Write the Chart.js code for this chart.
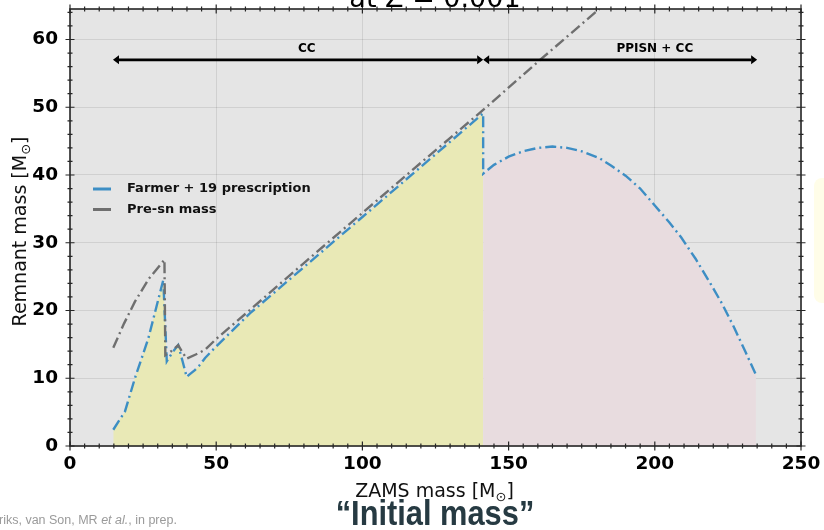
<!DOCTYPE html>
<html>
<head>
<meta charset="utf-8">
<script src="https://cdn.jsdelivr.net/npm/chart.js@4/dist/chart.umd.min.js"></script>
<style>
  html, body { margin: 0; padding: 0; background: #fff; }
  #wrap { position: relative; width: 824px; height: 530px; overflow: hidden; }
  #c { position: absolute; left: 0; top: 0; }
  .credit { position: absolute; left: -1px; top: 513px; font: 12.5px "Liberation Sans", Arial, sans-serif; color: #9a9a9a; white-space: nowrap; }
  .initial { position: absolute; left: 435px; top: 495px; font: bold 35px "Liberation Sans", Arial, sans-serif; color: #263a42; white-space: nowrap; transform: translateX(-50%) scaleX(0.88); line-height: 36px; }
  .note { position: absolute; left: 814px; top: 178px; width: 24px; height: 125px; background: #fffde8; border-radius: 8px; }
</style>
</head>
<body>
<div id="wrap">
  <canvas id="c" width="824" height="530"></canvas>
  <div class="note"></div>
  <div class="credit">riks, van Son, MR <i>et al.</i>, in prep.</div>
  <div class="initial">“Initial mass”</div>
</div>
<script>
/* remnant mass vs ZAMS mass, Z = 0.001 */

// Farmer+19, core-collapse branch (up to the PPISN jump)
const farmerCcX = [14.8, 18.8, 22.2, 26.8, 31.9, 33.1, 35, 37, 38.5, 39.9, 41, 42.7, 44.5, 46.2, 50, 61.6, 80, 100, 120, 141.3];
const farmerCcY = [2.4, 5.1, 10.0, 15.9, 24.5, 12.5, 13.8, 14.9, 12.5, 10.2, 10.6, 11.2, 12.0, 13.0, 14.7, 19.6, 26.4, 33.8, 41.2, 49.1];

// Farmer+19, PPISN branch
const farmerPpX = [141.3, 145, 150, 155, 160, 165, 170, 175, 181, 185, 190, 195, 200, 205, 209, 214, 219, 223, 227, 231, 234.6];
const farmerPpY = [40.2, 41.5, 42.7, 43.5, 44.0, 44.2, 44.0, 43.5, 42.5, 41.4, 39.9, 38.0, 35.5, 33.0, 30.8, 27.6, 24.0, 21.0, 17.6, 13.9, 10.5];

// pre-supernova mass
const preSnX = [14.8, 18.5, 22.2, 27, 32.3, 32.6, 35, 37, 38.5, 39.9, 43, 46.2, 50, 61.6, 80, 100, 120, 141.3, 160, 181];
const preSnY = [14.5, 18.1, 21.3, 24.7, 27.5, 13.4, 14.1, 14.9, 13.8, 12.9, 13.5, 14.2, 15.8, 20.1, 27.0, 34.4, 41.8, 49.6, 56.7, 64.5];

// regime arrows
const arrowSpans = [[14.7, 141.3], [141.3, 235]];
const arrowLabels = ['CC', 'PPISN + CC'];
const arrowLabelX = [81, 200];
const arrowY = 57;

const xTicksMajor = 50, xTicksMinor = 5;
const yTicksMajor = 10, yTicksMinor = 2;

const BLUE = '#3d8ec4';
const GRAY = '#6f6f6f';
const FONT = '"DejaVu Sans", sans-serif';

const pts = (xs, ys) => xs.map((x, i) => ({ x, y: ys[i] }));
const ccPts = pts(farmerCcX, farmerCcY);
const ppPts = pts(farmerPpX, farmerPpY);

function drawMsunText(ctx, prefix, cx, cy) {
    // "prefix [M" + subscript odot + "]"
    ctx.font = '19px ' + FONT;
    const w1 = ctx.measureText(prefix + '[M').width;
    ctx.font = '13px ' + FONT;
    const w2 = ctx.measureText('⊙').width;
    ctx.font = '19px ' + FONT;
    const w3 = ctx.measureText(']').width;
    let x = cx - (w1 + w2 + w3) / 2;
    ctx.textAlign = 'left';
    ctx.textBaseline = 'alphabetic';
    ctx.fillText(prefix + '[M', x, cy);
    x += w1;
    ctx.font = '13px ' + FONT;
    ctx.fillText('⊙', x, cy + 4);
    x += w2;
    ctx.font = '19px ' + FONT;
    ctx.fillText(']', x, cy);
}

const framePlugin = {
    id: 'frame',
    beforeDraw(chart) {
        const { ctx, chartArea: a } = chart;
        ctx.save();
        ctx.fillStyle = '#e5e5e5';
        ctx.fillRect(a.left, a.top, a.right - a.left, a.bottom - a.top);
        ctx.restore();
    },
    afterDraw(chart) {
        const { ctx, chartArea: a } = chart;
        const xs = chart.scales.x, ys = chart.scales.y;
        ctx.save();

        // frame
        ctx.strokeStyle = '#262626';
        ctx.lineWidth = 1.6;
        ctx.setLineDash([]);
        ctx.strokeRect(a.left, a.top, a.right - a.left, a.bottom - a.top);

        // ticks on all four sides, crossing the frame
        ctx.lineWidth = 1.2;
        for (let v = xs.min; v <= xs.max + 1e-6; v += xTicksMinor) {
            const len = v % xTicksMajor === 0 ? 4.5 : 2.5;
            const p = xs.getPixelForValue(v);
            ctx.beginPath();
            ctx.moveTo(p, a.bottom - len); ctx.lineTo(p, a.bottom + len);
            ctx.moveTo(p, a.top - len); ctx.lineTo(p, a.top + len);
            ctx.stroke();
        }
        for (let v = ys.min; v <= ys.max + 1e-6; v += yTicksMinor) {
            const len = v % yTicksMajor === 0 ? 4.5 : 2.5;
            const p = ys.getPixelForValue(v);
            ctx.beginPath();
            ctx.moveTo(a.left - len, p); ctx.lineTo(a.left + len, p);
            ctx.moveTo(a.right - len, p); ctx.lineTo(a.right + len, p);
            ctx.stroke();
        }

        // regime arrows
        const py = ys.getPixelForValue(arrowY);
        const head = 6, hw = 4.5;
        ctx.strokeStyle = '#000';
        ctx.fillStyle = '#000';
        arrowSpans.forEach(([x0, x1], i) => {
            const p0 = xs.getPixelForValue(x0), p1 = xs.getPixelForValue(x1);
            ctx.lineWidth = 2.8;
            ctx.beginPath();
            ctx.moveTo(p0 + head, py); ctx.lineTo(p1 - head, py);
            ctx.stroke();
            ctx.beginPath();
            ctx.moveTo(p0, py); ctx.lineTo(p0 + head, py - hw); ctx.lineTo(p0 + head, py + hw); ctx.closePath();
            ctx.moveTo(p1, py); ctx.lineTo(p1 - head, py - hw); ctx.lineTo(p1 - head, py + hw); ctx.closePath();
            ctx.fill();
            ctx.font = 'bold 12px ' + FONT;
            ctx.textAlign = 'center';
            ctx.textBaseline = 'middle';
            ctx.fillText(arrowLabels[i], xs.getPixelForValue(arrowLabelX[i]), py - 11);
        });

        // legend inside the axes
        const items = chart.data.datasets.filter((d) => d.inLegend);
        items.forEach((d, i) => {
            const ly = a.top + 180 + i * 20.5;
            ctx.strokeStyle = d.borderColor;
            ctx.lineWidth = 3;
            ctx.beginPath();
            ctx.moveTo(a.left + 23, ly); ctx.lineTo(a.left + 41, ly);
            ctx.stroke();
            ctx.fillStyle = '#111';
            ctx.font = 'bold 13px ' + FONT;
            ctx.textAlign = 'left';
            ctx.textBaseline = 'middle';
            ctx.fillText(d.label, a.left + 57, ly);
        });

        // axis titles
        ctx.fillStyle = '#111';
        drawMsunText(ctx, 'ZAMS mass ', (a.left + a.right) / 2 - 1, 497);
        ctx.translate(26, (a.top + a.bottom) / 2 + 4);
        ctx.rotate(-Math.PI / 2);
        drawMsunText(ctx, 'Remnant mass ', 0, 0);
        ctx.setTransform(1, 0, 0, 1, 0, 0);

        // title, cut off by the top of the slide
        ctx.font = '27px ' + FONT;
        ctx.textAlign = 'center';
        ctx.textBaseline = 'alphabetic';
        ctx.fillStyle = '#000';
        ctx.fillText('at Z = 0.001', 435, 7);

        ctx.restore();
    },
};

const tickFont = { family: 'DejaVu Sans', size: 18.5, weight: 'bold' };

new Chart(document.getElementById('c'), {
    type: 'line',
    data: {
        datasets: [
            {
                label: 'Farmer + 19 prescription',
                data: ccPts.concat(ppPts),
                borderColor: BLUE,
                borderWidth: 2.4,
                borderDash: [11, 4, 2, 4],
                pointRadius: 0,
                fill: false,
                tension: 0,
                order: 1,
                inLegend: true,
            },
            {
                label: 'Pre-sn mass',
                data: pts(preSnX, preSnY),
                borderColor: GRAY,
                borderWidth: 2.4,
                borderDash: [11, 4, 2, 4],
                pointRadius: 0,
                fill: false,
                tension: 0,
                order: 0,
                inLegend: true,
            },
            {
                label: 'CC region',
                data: ccPts,
                borderColor: 'rgba(0,0,0,0)',
                borderWidth: 0,
                backgroundColor: '#e9e9b6',
                pointRadius: 0,
                fill: 'origin',
                order: 3,
            },
            {
                label: 'PPISN region',
                data: ppPts,
                borderColor: 'rgba(0,0,0,0)',
                borderWidth: 0,
                backgroundColor: '#e8dcdf',
                pointRadius: 0,
                fill: 'origin',
                order: 2,
            },
        ],
    },
    options: {
        responsive: false,
        animation: false,
        devicePixelRatio: 1,
        layout: { padding: { top: 9, right: 23, left: 0, bottom: 0 } },
        plugins: { legend: { display: false }, tooltip: { enabled: false } },
        scales: {
            x: {
                type: 'linear',
                min: 0,
                max: 250,
                afterFit: (s) => { s.height = 84; s.paddingLeft = 0; s.paddingRight = 0; },
                ticks: { stepSize: xTicksMajor, font: tickFont, color: '#000', padding: 7, maxRotation: 0 },
                grid: { color: 'rgba(0,0,0,0.09)', drawTicks: false },
                border: { display: false },
            },
            y: {
                type: 'linear',
                min: 0,
                max: 64.5,
                afterFit: (s) => { s.width = 70; s.paddingTop = 0; s.paddingBottom = 0; },
                afterBuildTicks: (s) => { s.ticks = s.ticks.filter((t) => t.value % yTicksMajor === 0); },
                ticks: { stepSize: yTicksMajor, font: tickFont, color: '#000', padding: 12 },
                grid: { color: 'rgba(0,0,0,0.09)', drawTicks: false },
                border: { display: false },
            },
        },
    },
    plugins: [framePlugin],
});
</script>
</body>
</html>
